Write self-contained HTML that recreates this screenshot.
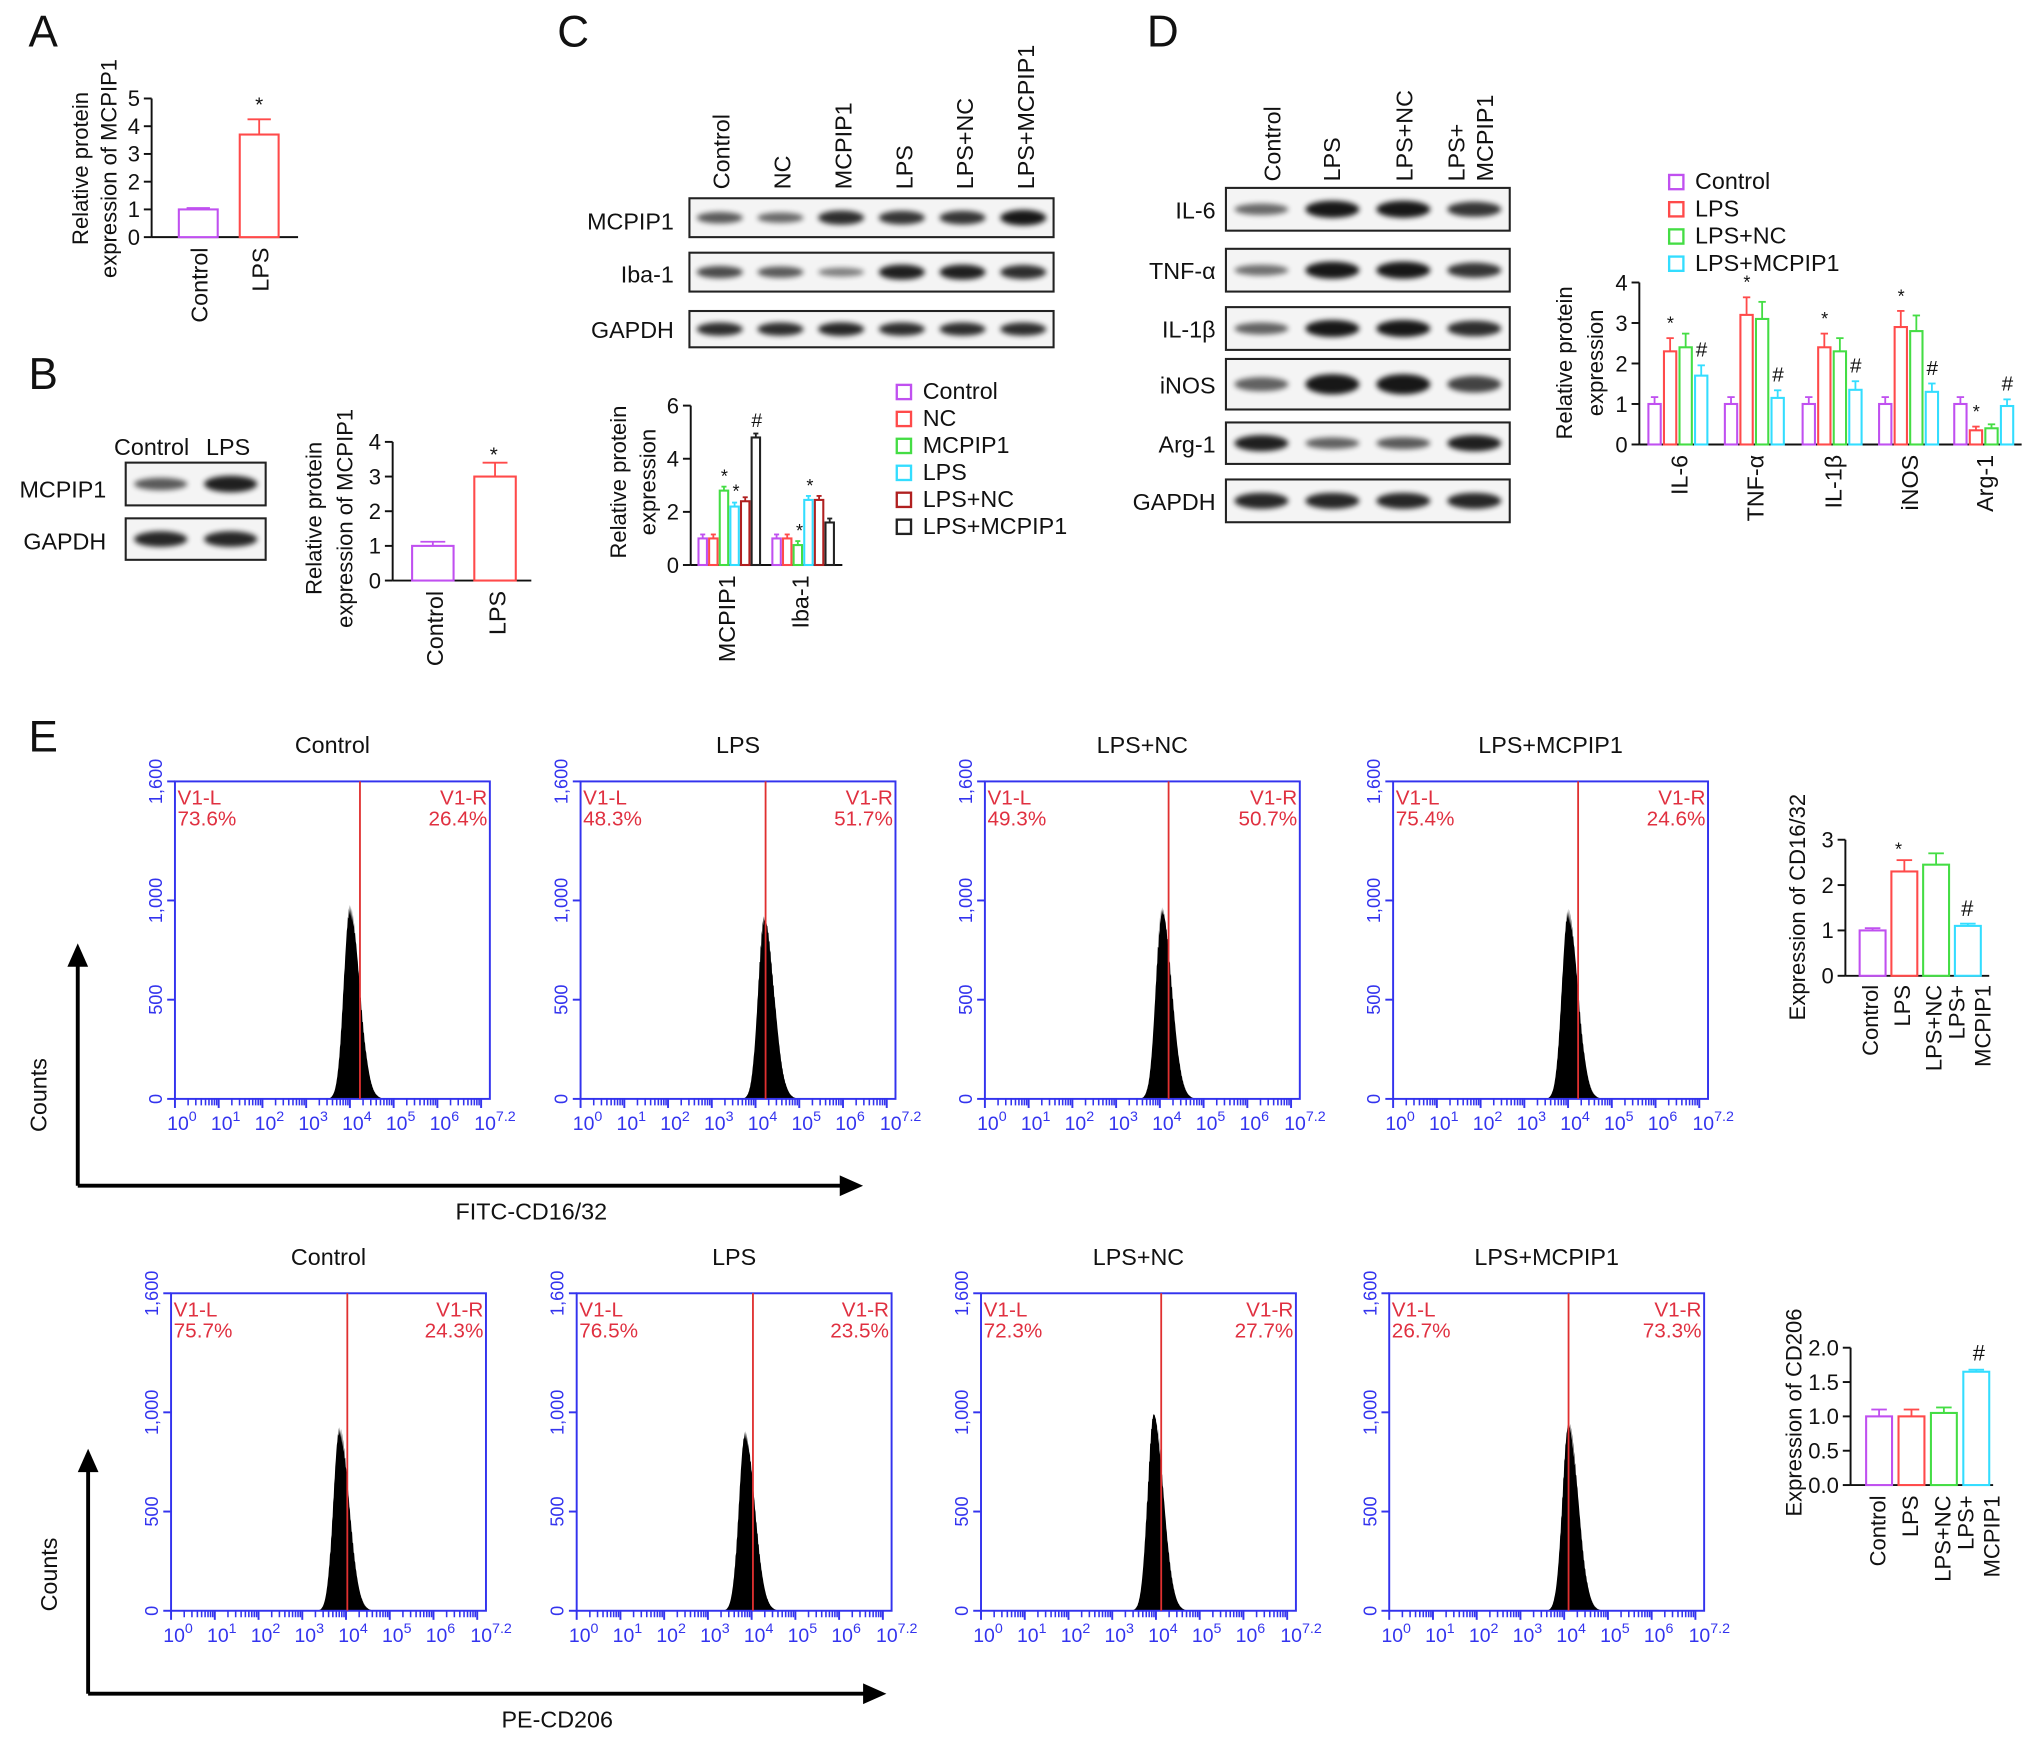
<!DOCTYPE html>
<html><head><meta charset="utf-8"><style>
html,body{margin:0;padding:0;background:#fff;}
svg{display:block;font-family:"Liberation Sans",Arial,sans-serif;}
</style></head><body>
<svg id="fig" xmlns="http://www.w3.org/2000/svg" width="2032" height="1741" viewBox="0 0 1568 1343.5" preserveAspectRatio="none">
<defs><filter id="blur" x="-20%" y="-50%" width="140%" height="200%"><feGaussianBlur stdDeviation="2"/></filter></defs>
</svg>
<script>
// ---------- data ----------
const colA=['#c050f0','#ff4a4a'];
const catA=['Control','LPS'];
const valA=[1,3.7];
const errA=[0.05,0.55];
const catB=['Control','LPS'];
const valB=[1,3];
const errB=[0.12,0.4];
const catC=['MCPIP1','Iba-1'];
const seriesC=['Control','NC','MCPIP1','LPS','LPS+NC','LPS+MCPIP1'];
const colC=['#c050f0','#ff4a4a','#44dd44','#33ddff','#b02020','#222222'];
const valC_MCPIP1=[1,1,2.8,2.2,2.4,4.8];
const valC_Iba1=[1,1,0.75,2.45,2.45,1.6];
const catD=['IL-6','TNF-\u03b1','IL-1\u03b2','iNOS','Arg-1'];
const seriesD=['Control','LPS','LPS+NC','LPS+MCPIP1'];
const colD=['#c050f0','#ff4a4a','#44dd44','#33ddff'];
const valD_Control=[1,1,1,1,1];
const valD_LPS=[2.3,3.2,2.4,2.9,0.35];
const valD_LPSNC=[2.4,3.1,2.3,2.8,0.4];
const valD_LPSMC=[1.7,1.15,1.35,1.3,0.95];
const catE=['Control','LPS','LPS+NC','LPS+ MCPIP1'];
const valE_CD16=[1,2.3,2.45,1.1];
const errE_CD16=[0.05,0.25,0.25,0.05];
const valE_CD206=[1,1,1.05,1.65];
const errE_CD206=[0.1,0.1,0.08,0.03];
const flowTitles=['Control','LPS','LPS+NC','LPS+MCPIP1'];
const flowL1=['73.6%','48.3%','49.3%','75.4%'];
const flowR1=['26.4%','51.7%','50.7%','24.6%'];
const flowGate1=[4.23,4.23,4.2,4.23];
const flowPeak1=[4.0,4.2,4.05,4.0];
const flowH1=[980,930,970,960];
const flowL2=['75.7%','76.5%','72.3%','26.7%'];
const flowR2=['24.3%','23.5%','27.7%','73.3%'];
const flowGate2=[4.03,4.03,4.12,4.1];
const flowPeak2=[3.85,3.85,3.95,4.1];
const flowH2=[930,910,1010,960];

// ---------- helpers ----------
const NS='http://www.w3.org/2000/svg';
const svg=document.getElementById('fig');
function mk(tag,attrs,parent){const e=document.createElementNS(NS,tag);for(const k in attrs)e.setAttribute(k,attrs[k]);(parent||svg).appendChild(e);return e;}
function txt(x,y,s,size,attrs){const t=mk('text',Object.assign({x:x,y:y,'font-size':size,fill:'#111'},attrs||{}));t.textContent=s;return t;}
function line(x1,y1,x2,y2,c,w){return mk('line',{x1,y1,x2,y2,stroke:c||'#111','stroke-width':w||1.5});}

function yAxis(ax,yb,scale,ticks,labels,fs){
  const l=line(ax,scale(ticks[ticks.length-1]),ax,yb);
  
  
  ticks.forEach((v,i)=>{line(ax-6,scale(v),ax,scale(v));
    const t=txt(ax-9,scale(v)+6,labels[i],fs||17,{'text-anchor':'end'});
    
    });
}
function bar(x,w,v,e,c,scale,yb,name){
  const r=mk('rect',{x:x,y:scale(v),width:w,height:yb-scale(v),fill:'#fff',stroke:c,'stroke-width':1.6});
  
  
  if(e>0){line(x+w/2,scale(v+e),x+w/2,scale(v),c,1.4);line(x+w/2-w*0.3,scale(v+e),x+w/2+w*0.3,scale(v+e),c,1.4);}
  return r;
}
function rotLabel(x,y,s,fs,anchor){const t=txt(x,y,s,fs||17,{'text-anchor':anchor||'end',transform:`rotate(-90 ${x} ${y})`});return t;}
function panelLetter(x,y,s){const t=txt(x,y,s,34);}
function blotBox(x,y,w,h,intens,name){
  const g=mk('g',{});
  
  
  mk('rect',{x:x,y:y,width:w,height:h,fill:'#f4f4f4',stroke:'#222','stroke-width':1.6},g);
  const lw=w/intens.length;
  intens.forEach((k,i)=>{mk('ellipse',{cx:x+lw*(i+0.5),cy:y+h/2,rx:lw*0.38,ry:h*0.08+h*0.12*k,fill:'#000',opacity:0.3+0.6*k,filter:'url(#blur)'},g);});
}
function legend(x,y,step,names,cols,fs){
  names.forEach((n,i)=>{mk('rect',{x:x,y:y+i*step-11,width:11,height:11,fill:'#fff',stroke:cols[i],'stroke-width':1.8});
    const t=txt(x+20,y+i*step,n,fs||18);});
}

// ---------- Panel A ----------
panelLetter(22,36,'A');
{const yb=183,s=v=>yb-v*21.4;
 yAxis(117,yb,s,[0,1,2,3,4,5],['0','1','2','3','4','5']);
 line(117,yb,230,yb);
 const xs=[138,185];
 catA.forEach((c,i)=>{bar(xs[i],30,valA[i],errA[i],colA[i],s,yb,'bar-a-'+c.toLowerCase());rotLabel(xs[i]+22,yb+8,c,18);});
 txt(200,86,'*',16,{'text-anchor':'middle'});
 rotLabel(68,130,'Relative protein',17,'middle');rotLabel(90,130,'expression of MCPIP1',17,'middle');}

// ---------- Panel B ----------
panelLetter(22,300,'B');
txt(88,351,'Control',18);txt(159,351,'LPS',18);
blotBox(97,357,108,33,[0.55,0.95],'blot-b-mcpip1');
blotBox(97,400,108,32,[0.9,0.9],'blot-b-gapdh');
txt(15,384,'MCPIP1',18);txt(18,424,'GAPDH',18);
{const yb=448,s=v=>yb-v*26.75;
 yAxis(303,yb,s,[0,1,2,3,4],['0','1','2','3','4']);
 line(303,yb,410,yb);
 const xs=[318,366];
 catB.forEach((c,i)=>{bar(xs[i],32,valB[i],errB[i],colA[i],s,yb,'bar-b-'+c.toLowerCase());rotLabel(xs[i]+24,yb+8,c,18);});
 txt(381,356,'*',16,{'text-anchor':'middle'});
 rotLabel(248,400,'Relative protein',17,'middle');rotLabel(272,400,'expression of MCPIP1',17,'middle');}

// ---------- Panel C ----------
panelLetter(430,36,'C');
{const lanes=['Control','NC','MCPIP1','LPS','LPS+NC','LPS+MCPIP1'];
 lanes.forEach((n,i)=>rotLabel(563+i*47,146,n,18,'start'));
 blotBox(532,153,281,30,[0.55,0.45,0.85,0.8,0.8,1],'blot-c-mcpip1');
 blotBox(532,195,281,30,[0.65,0.55,0.3,0.95,0.95,0.85],'blot-c-iba1');
 blotBox(532,240,281,28,[0.85,0.85,0.9,0.85,0.85,0.85],'blot-c-gapdh');
 txt(520,177,'MCPIP1',18,{'text-anchor':'end'});txt(520,218,'Iba-1',18,{'text-anchor':'end'});txt(520,261,'GAPDH',18,{'text-anchor':'end'});
 const yb=436,s=v=>yb-v*20.5;
 yAxis(533,yb,s,[0,2,4,6],['0','2','4','6']);
 line(533,yb,650,yb);
 const starts=[539,596];
 [valC_MCPIP1,valC_Iba1].forEach((vals,g)=>{vals.forEach((v,i)=>bar(starts[g]+i*8.2,6.5,v,0.15,colC[i],s,yb,'bar-c-'+catC[g].toLowerCase()+'-'+i));
   rotLabel(starts[g]+28,yb+8,catC[g],18);});
 txt(559,s(3.1),'*',14,{'text-anchor':'middle'});txt(568,s(2.55),'*',14,{'text-anchor':'middle'});
 txt(584,s(5.2),'#',15,{'text-anchor':'middle'});txt(617,s(1.05),'*',14,{'text-anchor':'middle'});txt(625,s(2.75),'*',14,{'text-anchor':'middle'});
 rotLabel(483,372,'Relative protein',17,'middle');rotLabel(506,372,'expression',17,'middle');
 legend(692,308,20.8,seriesC,colC,18);}

// ---------- Panel D ----------
panelLetter(885,36,'D');
{rotLabel(988,140,'Control',18,'start');rotLabel(1034,140,'LPS',18,'start');rotLabel(1090,140,'LPS+NC',18,'start');
 rotLabel(1130,140,'LPS+',18,'start');rotLabel(1152,140,'MCPIP1',18,'start');
 const rows=[['IL-6',145,33,[0.45,1,1,0.8]],['TNF-\u03b1',192,33,[0.4,1,1,0.8]],['IL-1\u03b2',237,33,[0.5,1,1,0.85]],['iNOS',277,39,[0.5,1,1,0.7]],['Arg-1',326,32,[0.95,0.5,0.55,0.95]],['GAPDH',370,33,[0.9,0.9,0.9,0.9]]];
 rows.forEach(r=>{blotBox(946,r[1],219,r[2],r[3],'blot-d-'+r[0].toLowerCase());txt(938,r[1]+r[2]/2+7,r[0],18,{'text-anchor':'end'});});
 legend(1288,146,21,seriesD,colD,18);
 const yb=343,s=v=>yb-v*31.25;
 yAxis(1265,yb,s,[0,1,2,3,4],['0','1','2','3','4']);
 line(1265,yb,1560,yb);
 const starts=[1272,1331,1391,1450,1508];
 const series=[valD_Control,valD_LPS,valD_LPSNC,valD_LPSMC];
 catD.forEach((c,g)=>{series.forEach((vals,i)=>bar(starts[g]+i*12,9.5,vals[g],vals[g]*0.12+0.05,colD[i],s,yb,'bar-d-'+g+'-'+i));
   rotLabel(starts[g]+30,yb+8,c,18);});
 const marks=[[0,1,'*'],[0,3,'#'],[1,1,'*'],[1,3,'#'],[2,1,'*'],[2,3,'#'],[3,1,'*'],[3,3,'#'],[4,1,'*'],[4,3,'#']];
 marks.forEach(m=>{const v=series[m[1]][m[0]];txt(starts[m[0]]+m[1]*12+5,s(v*1.12+0.2)-2,m[2],m[2]=='#'?16:14,{'text-anchor':'middle'});});
 rotLabel(1213,280,'Relative protein',17,'middle');rotLabel(1237,280,'expression',17,'middle');}

// ---------- Panel E flow ----------
panelLetter(22,580,'E');
const boxX=[135,448,760,1075], boxW=243, boxH=245;
function flowPlot(bx,by,title,lp,rp,gate,peak,h,idx){
  const g=mk('g',{});
  
  
  const xs=l=>bx+l/7.2*boxW, ys=c=>by+boxH-c/1600*boxH;
  const t=txt(bx+boxW/2,by-22,title,18,{'text-anchor':'middle'});g.appendChild(t);
  let pts=[];
  for(let l=peak-0.6;l<=peak+0.8;l+=0.012){const d=l-peak;const sd=d<0?0.14:0.22;let c=h*Math.exp(-d*d/(2*sd*sd));c*=0.93+0.07*Math.abs(Math.sin(l*137));pts.push([xs(l),ys(c)]);}
  let d='M'+xs(peak-0.6)+','+ys(0);pts.forEach(p=>d+=' L'+p[0].toFixed(1)+','+p[1].toFixed(1));d+=' L'+xs(peak+0.8)+','+ys(0)+'Z';
  mk('path',{d:d,fill:'#000'},g);
  mk('rect',{x:bx,y:by,width:boxW,height:boxH,fill:'none',stroke:'#3333ee','stroke-width':1.5},g);
  mk('line',{x1:xs(gate),y1:by,x2:xs(gate),y2:by+boxH,stroke:'#e03030','stroke-width':1.4},g);
  const lbl=[['V1-L',bx+2,by+18,'start'],[lp,bx+2,by+34,'start'],['V1-R',bx+boxW-2,by+18,'end'],[rp,bx+boxW-2,by+34,'end']];
  lbl.forEach(q=>{const e=txt(q[1],q[2],q[0],16,{fill:'#e03040','text-anchor':q[3]});g.appendChild(e);});
  [[0,'0'],[500,'500'],[1000,'1,000'],[1600,'1,600']].forEach(tk=>{mk('line',{x1:bx-6,y1:ys(tk[0]),x2:bx,y2:ys(tk[0]),stroke:'#3333ee','stroke-width':1.5},g);
    const e=txt(bx-10,ys(tk[0]),tk[1],14,{fill:'#3333ee','text-anchor':'middle',transform:`rotate(-90 ${bx-10} ${ys(tk[0])})`});g.appendChild(e);});
  for(let dec=0;dec<8;dec++){for(let m=1;m<10;m++){const l=dec+Math.log10(m);if(l>7.2)break;
    mk('line',{x1:xs(l),y1:by+boxH,x2:xs(l),y2:by+boxH+(m==1?7:5),stroke:'#3333ee','stroke-width':m==1?1.5:1.2},g);}}
  const labs=['0','1','2','3','4','5','6','7.2'];
  labs.forEach((s,i)=>{const l=i<7?i:7.2;const e=txt(xs(l)-(i<7?6:12),by+boxH+24,'10',15,{fill:'#3333ee'});
    const sp=document.createElementNS(NS,'tspan');sp.setAttribute('dy','-7');sp.setAttribute('font-size','11');sp.textContent=s;e.appendChild(sp);g.appendChild(e);});
}
flowTitles.forEach((t,i)=>flowPlot(boxX[i],603,t,flowL1[i],flowR1[i],flowGate1[i],flowPeak1[i],flowH1[i],'r1-'+i));
flowTitles.forEach((t,i)=>flowPlot(boxX[i]-3,998,t,flowL2[i],flowR2[i],flowGate2[i],flowPeak2[i],flowH2[i],'r2-'+i));
function arrows(x,yb,ytop,xr,lab,lx,ly,cy){
  line(x,yb,x,ytop+16,'#000',3);mk('polygon',{points:`${x-8},${ytop+18} ${x+8},${ytop+18} ${x},${ytop}`,fill:'#000'});
  line(x,yb,xr-16,yb,'#000',3);mk('polygon',{points:`${xr-18},${yb-8} ${xr-18},${yb+8} ${xr},${yb}`,fill:'#000'});
  const t=txt(lx,ly,lab,18,{'text-anchor':'middle'});
  const c=rotLabel(x-24,cy,'Counts',18,'middle');
}
arrows(60,915,728,666,'FITC-CD16/32',410,941,845);
arrows(68,1307,1118,684,'PE-CD206',430,1333,1215);

// ---------- Panel E bar charts ----------
{const yb=753,s=v=>yb-v*35;
 yAxis(1424,yb,s,[0,1,2,3],['0','1','2','3']);
 line(1424,yb,1535,yb);
 catE.forEach((c,i)=>{bar(1435+i*24.5,20,valE_CD16[i],errE_CD16[i],colD[i],s,yb,'bar-cd16-'+i);});
 rotLabel(1449,760,'Control',17);rotLabel(1474,760,'LPS',17);rotLabel(1498,760,'LPS+NC',17);rotLabel(1516,760,'LPS+',17);rotLabel(1536,760,'MCPIP1',17);
 txt(1465,s(2.6)-2,'*',14,{'text-anchor':'middle'});txt(1518,s(1.2)-4,'#',17,{'text-anchor':'middle'});
 rotLabel(1393,700,'Expression of CD16/32',17,'middle');}
{const yb=1146,s=v=>yb-v*53;
 yAxis(1428,yb,s,[0,0.5,1,1.5,2],['0.0','0.5','1.0','1.5','2.0']);
 line(1428,yb,1538,yb);
 catE.forEach((c,i)=>{bar(1440+i*25,20,valE_CD206[i],errE_CD206[i],colD[i],s,yb,'bar-cd206-'+i);});
 rotLabel(1455,1154,'Control',17);rotLabel(1480,1154,'LPS',17);rotLabel(1505,1154,'LPS+NC',17);rotLabel(1523,1154,'LPS+',17);rotLabel(1543,1154,'MCPIP1',17);
 txt(1527,s(1.7)-6,'#',17,{'text-anchor':'middle'});
 rotLabel(1390,1090,'Expression of CD206',17,'middle');}
</script>
</body></html>
